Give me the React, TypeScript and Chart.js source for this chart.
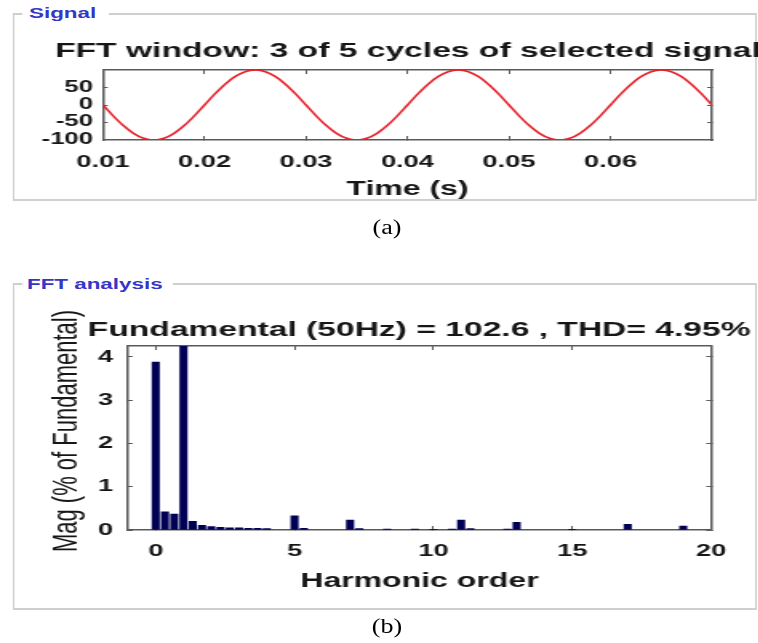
import React, { useEffect, useRef } from "react";
import { Chart, registerables } from "chart.js";

Chart.register(...registerables);

// ---------------- data ----------------
// panel (a): selected signal, time (s) and amplitude
const signalTime = [
  0.010, 0.011, 0.012, 0.013, 0.014, 0.015, 0.016, 0.017, 0.018, 0.019,
  0.020, 0.021, 0.022, 0.023, 0.024, 0.025, 0.026, 0.027, 0.028, 0.029,
  0.030, 0.031, 0.032, 0.033, 0.034, 0.035, 0.036, 0.037, 0.038, 0.039,
  0.040, 0.041, 0.042, 0.043, 0.044, 0.045, 0.046, 0.047, 0.048, 0.049,
  0.050, 0.051, 0.052, 0.053, 0.054, 0.055, 0.056, 0.057, 0.058, 0.059,
  0.060, 0.061, 0.062, 0.063, 0.064, 0.065, 0.066, 0.067, 0.068, 0.069,
  0.070,
];
const signalValue = [
  0, -31.7, -60.3, -83.0, -97.6, -102.6, -97.6, -83.0, -60.3, -31.7,
  0, 31.7, 60.3, 83.0, 97.6, 102.6, 97.6, 83.0, 60.3, 31.7,
  0, -31.7, -60.3, -83.0, -97.6, -102.6, -97.6, -83.0, -60.3, -31.7,
  0, 31.7, 60.3, 83.0, 97.6, 102.6, 97.6, 83.0, 60.3, 31.7,
  0, -31.7, -60.3, -83.0, -97.6, -102.6, -97.6, -83.0, -60.3, -31.7,
  0, 31.7, 60.3, 83.0, 97.6, 102.6, 97.6, 83.0, 60.3, 31.7,
  0,
];
const signalXTicks = [0.01, 0.02, 0.03, 0.04, 0.05, 0.06];
const signalXTickLabels = ["0.01", "0.02", "0.03", "0.04", "0.05", "0.06"];
const signalYTicks = [-100, -50, 0, 50];
const signalYTickLabels = ["-100", "-50", "0", "50"];

// panel (b): FFT spectrum, harmonic order and magnitude (% of fundamental)
const harmonicOrder = [
  0, 0.333, 0.667, 1, 1.333, 1.667, 2, 2.333, 2.667, 3, 3.333, 3.667, 4,
  5, 5.333, 7, 7.333, 8.333, 9.333, 10, 10.667, 11, 11.333, 12.667, 13,
  15, 17, 19,
];
const harmonicMag = [
  3.88, 0.42, 0.37, 100, 0.2, 0.11, 0.08, 0.06, 0.05, 0.05, 0.04, 0.04, 0.03,
  0.33, 0.04, 0.23, 0.03, 0.02, 0.02, 0.01, 0.02, 0.23, 0.03, 0.02, 0.18,
  0.01, 0.13, 0.09,
];
const fftXTicks = [0, 5, 10, 15, 20];
const fftXTickLabels = ["0", "5", "10", "15", "20"];
const fftYTicks = [0, 1, 2, 3, 4];
const fftYTickLabels = ["0", "1", "2", "3", "4"];

// ---------------- styling helpers ----------------
const STRETCH = 1.6;
const SANS = '"Liberation Sans", Arial, Helvetica, sans-serif';
const SERIF = '"Liberation Serif", "Times New Roman", serif';
const INK = "#161616";
const AXIS = "#5a5a5a";

const fixTicks = (values: number[]) => (scale: any) => {
  scale.ticks = values.map((value) => ({ value }));
};
const fixWidth = (w: number) => (scale: any) => {
  scale.width = w;
};
const fixHeight = (h: number) => (scale: any) => {
  scale.height = h;
};

function boxAxis(position: string, min: number, max: number, ticks: number[], size: number, tickLen: number) {
  const horizontal = position === "top" || position === "bottom";
  return {
    type: "linear",
    position,
    min,
    max,
    offset: false,
    afterBuildTicks: fixTicks(ticks),
    afterFit: horizontal ? fixHeight(size) : fixWidth(size),
    ticks: { display: false },
    grid: {
      display: true,
      offset: false,
      drawOnChartArea: false,
      drawTicks: true,
      tickLength: tickLen,
      color: AXIS,
      lineWidth: 1,
    },
    border: { display: true, color: AXIS, width: 1.5 },
  };
}

export default function App() {
  const sigRef = useRef<HTMLCanvasElement>(null);
  const fftRef = useRef<HTMLCanvasElement>(null);

  useEffect(() => {
    const sig = new Chart(sigRef.current as HTMLCanvasElement, {
      type: "line",
      data: {
        datasets: [
          {
            data: signalTime.map((t, i) => ({ x: t, y: signalValue[i] })),
            borderColor: "#e8222c",
            borderWidth: 1.6,
            pointRadius: 0,
            cubicInterpolationMode: "monotone",
            fill: false,
          },
        ],
      },
      options: {
        responsive: false,
        animation: false,
        events: [],
        layout: { padding: { left: 0, right: 0, top: 0, bottom: 3 } },
        plugins: {
          legend: { display: false },
          tooltip: { enabled: false },
          title: {
            display: true,
            text: "FFT window: 3 of 5 cycles of selected signal",
            color: INK,
            font: { family: SANS, size: 21, weight: "bold" },
            padding: { top: 8.4, bottom: 6.4 },
          },
        },
        scales: {
          x: {
            ...boxAxis("bottom", 0.01, 0.07, signalXTicks, 65, -4),
            ticks: {
              display: true,
              autoSkip: false,
              maxRotation: 0,
              padding: 16,
              color: INK,
              font: { family: SANS, size: 17, weight: "bold" },
              callback: (_v: any, i: number) => signalXTickLabels[i],
            },
            title: {
              display: true,
              text: "Time (s)",
              color: INK,
              font: { family: SANS, size: 20, weight: "bold" },
              padding: { top: 0, bottom: 4 },
            },
          },
          x2: boxAxis("top", 0.01, 0.07, signalXTicks, 0, -4),
          y: {
            ...boxAxis("left", -102.6, 102.6, signalYTicks, 64.4, -3),
            ticks: {
              display: true,
              autoSkip: false,
              padding: 9.3,
              color: INK,
              font: { family: SANS, size: 16, weight: "bold" },
              callback: (_v: any, i: number) => signalYTickLabels[i],
            },
          },
          y2: boxAxis("right", -102.6, 102.6, signalYTicks, 65, -3),
        },
      } as any,
    });

    const fft = new Chart(fftRef.current as HTMLCanvasElement, {
      type: "bar",
      data: {
        datasets: [
          {
            data: harmonicOrder.map((h, i) => ({ x: h, y: harmonicMag[i] })),
            backgroundColor: "#000055",
            borderWidth: 0,
            barThickness: 4.4,
          },
        ],
      },
      options: {
        responsive: false,
        animation: false,
        events: [],
        layout: { padding: { left: 0, right: 0, top: 0, bottom: 3 } },
        plugins: {
          legend: { display: false },
          tooltip: { enabled: false },
          title: {
            display: true,
            text: "Fundamental (50Hz) = 102.6 , THD= 4.95%",
            color: INK,
            font: { family: SANS, size: 21, weight: "bold" },
            padding: { top: 57.4, bottom: 3.4 },
          },
          subtitle: {
            display: true,
            position: "left",
            text: "Mag (% of Fundamental)",
            color: INK,
            font: { family: SANS, size: 22, weight: "normal" },
            padding: { top: 28.7, bottom: 0 },
          },
        },
        scales: {
          x: {
            ...boxAxis("bottom", -1, 20, fftXTicks, 72, -4),
            ticks: {
              display: true,
              autoSkip: false,
              maxRotation: 0,
              padding: 15.3,
              color: INK,
              font: { family: SANS, size: 17, weight: "bold" },
              callback: (_v: any, i: number) => fftXTickLabels[i],
            },
            title: {
              display: true,
              text: "Harmonic order",
              color: INK,
              font: { family: SANS, size: 20, weight: "bold" },
              padding: { top: 0, bottom: 9 },
            },
          },
          x2: boxAxis("top", -1, 20, fftXTicks, 0, -4),
          y: {
            ...boxAxis("left", 0, 4.25, fftYTicks, 24.9, -3),
            ticks: {
              display: true,
              autoSkip: false,
              padding: 12.4,
              color: INK,
              font: { family: SANS, size: 17, weight: "bold" },
              callback: (_v: any, i: number) => fftYTickLabels[i],
            },
          },
          y2: boxAxis("right", 0, 4.25, fftYTicks, 79.6, -3),
        },
      } as any,
    });

    return () => {
      sig.destroy();
      fft.destroy();
    };
  }, []);

  const frame = (top: number, height: number): React.CSSProperties => ({
    position: "absolute",
    left: 13 / STRETCH,
    top,
    width: (756 - 13) / STRETCH,
    height,
    boxSizing: "border-box",
    borderTop: "2px solid #cfcfcf",
    borderBottom: "2px solid #cfcfcf",
    borderLeft: "1.25px solid #cfcfcf",
    borderRight: "1.25px solid #cfcfcf",
  });
  const panelLabel = (top: number, padL: number, padR: number): React.CSSProperties => ({
    position: "absolute",
    left: 22 / STRETCH,
    top,
    padding: `0 ${padR}px 0 ${padL}px`,
    background: "#ffffff",
    fontFamily: SANS,
    fontWeight: "bold",
    fontSize: 14,
    lineHeight: "16px",
    color: "#3535c8",
    whiteSpace: "nowrap",
  });
  const caption = (top: number): React.CSSProperties => ({
    position: "absolute",
    left: 387,
    top,
    transform: "translateX(-50%) scaleX(1.3)",
    fontFamily: SERIF,
    fontSize: 20,
    lineHeight: "22px",
    color: "#000",
    whiteSpace: "nowrap",
  });

  return (
    <div
      style={{
        position: "absolute",
        left: 0,
        top: 0,
        width: 758,
        height: 643,
        overflow: "hidden",
        background: "#ffffff",
      }}
    >
      <div
        style={{
          position: "absolute",
          left: 0,
          top: 0,
          width: 758 / STRETCH,
          height: 643,
          transform: `scaleX(${STRETCH})`,
          transformOrigin: "0 0",
        }}
      >
        <div style={frame(13, 188)} />
        <div style={panelLabel(5, 4.4, 8.1)}>Signal</div>
        <div style={frame(283, 327)} />
        <div style={panelLabel(276, 3.1, 6.2)}>FFT analysis</div>
        <canvas
          ref={sigRef}
          width={510}
          height={178}
          style={{ position: "absolute", left: 0, top: 30 }}
        />
        <canvas
          ref={fftRef}
          width={524}
          height={345}
          style={{ position: "absolute", left: 0, top: 260 }}
        />
      </div>
      <div style={caption(216.4)}>(a)</div>
      <div style={caption(615.4)}>(b)</div>
    </div>
  );
}
